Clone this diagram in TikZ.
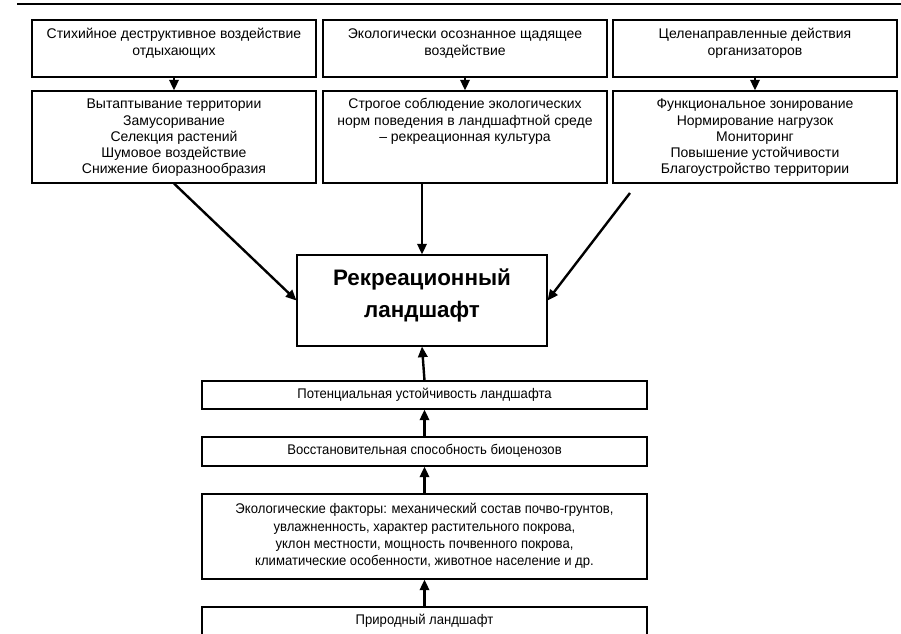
\documentclass[tikz,border=0pt]{standalone}
\usepackage{fontspec}
\setmainfont{Liberation Sans}
\usetikzlibrary{arrows.meta}
\newcommand{\fstr}{\rule{0pt}{10pt}}
\newcommand{\bstr}{\rule{0pt}{17pt}}
\newcommand{\narrowtxt}[1]{\scalebox{0.935}[1]{\begin{tabular}{@{}c@{}}#1\end{tabular}}}
\begin{document}
\begin{tikzpicture}[x=0.75pt,y=-0.75pt,
  box/.style={draw, line width=0.8pt, inner sep=0pt},
  txt/.style={font=\fontsize{10.5}{12.2}\selectfont, align=center, inner sep=0pt},
  arr/.style={line width=1.8pt, -{Triangle[length=8pt,width=7pt]}},
]
\clip (0,0) rectangle (901,634);
\fill[white] (0,0) rectangle (901,634);
% top rule
\coordinate (r0) at (17,4);
\coordinate (r1) at (901,4);
\draw[line width=2.2pt] (r0) -- (r1);
% top boxes
\node[box, minimum width=213pt, minimum height=42.75pt] (a1) at (174,48.5) {};
\node[box, minimum width=213pt, minimum height=42.75pt] (a2) at (465,48.5) {};
\node[box, minimum width=213pt, minimum height=42.75pt] (a3) at (755,48.5) {};
\node[txt, anchor=north] (ta1) at (174,25.2) {\fstr Стихийное деструктивное воздействие\\отдыхающих};
\node[txt, anchor=north] (ta2) at (465,25.2) {\fstr Экологически осознанное щадящее\\воздействие};
\node[txt, anchor=north] (ta3) at (755,25.2) {\fstr Целенаправленные действия\\организаторов};
% second row
\node[box, minimum width=213pt, minimum height=69pt] (b1) at (174,137) {};
\node[box, minimum width=213pt, minimum height=69pt] (b2) at (465,137) {};
\node[box, minimum width=213pt, minimum height=69pt] (b3) at (755,137) {};
\node[txt, anchor=north] (tb1) at (174,95.2) {\fstr Вытаптывание территории\\Замусоривание\\Селекция растений\\Шумовое воздействие\\Снижение биоразнообразия};
\node[txt, anchor=north] (tb2) at (465,95.2) {\fstr Строгое соблюдение экологических\\норм поведения в ландшафтной среде\\– рекреационная культура};
\node[txt, anchor=north] (tb3) at (755,95.2) {\fstr Функциональное зонирование\\Нормирование нагрузок\\Мониторинг\\Повышение устойчивости\\Благоустройство территории};
\draw[arr] (a1) -- (b1);
\draw[arr] (a2) -- (b2);
\draw[arr] (a3) -- (b3);
% central box
\node[box, minimum width=187.5pt, minimum height=68.25pt] (c) at (422,300.5) {};
\node[inner sep=0pt, align=center, font=\fontsize{16.8}{24}\selectfont\bfseries, anchor=north] (tc) at (422,262.3) {\bstr Рекреационный\\ландшафт};
\coordinate (rs) at (630,193);
\draw[arr] (b1.south) -- (c.west);
\draw[arr] (c.north |- b2.south) -- (c.north);
\draw[arr] (rs) -- (c.east);
% bottom boxes
\node[box, txt, minimum width=333.75pt, minimum height=21pt] (p1) at (424.5,395) {\narrowtxt{Потенциальная устойчивость ландшафта}};
\node[box, txt, minimum width=333.75pt, minimum height=21.75pt] (p2) at (424.5,451.5) {\narrowtxt{Восстановительная способность биоценозов}};
\node[box, txt, font=\fontsize{10.5}{13}\selectfont, minimum width=333.75pt, minimum height=63.75pt] (p3) at (424.5,536.5) {\narrowtxt{Экологические факторы: механический состав почво-грунтов,\\увлажненность, характер растительного покрова,\\уклон местности, мощность почвенного покрова,\\климатические особенности, животное население и др.}};
\node[box, txt, minimum width=333.75pt, minimum height=21pt] (p4) at (424.5,621) {\narrowtxt{Природный ландшафт}};
\draw[arr] (p1.north) -- (c.south);
\draw[arr] (p2) -- (p1);
\draw[arr] (p3) -- (p2);
\draw[arr] (p4) -- (p3);
\end{tikzpicture}
\end{document}
